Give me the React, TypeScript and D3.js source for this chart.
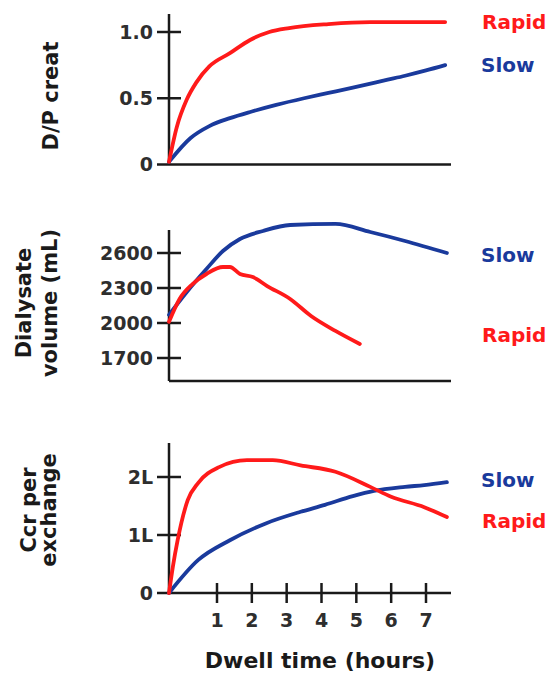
import * as d3 from 'd3';

// dwell time axis
const hourTicks = [1, 2, 3, 4, 5, 6, 7];

// D/P creatinine (hours, ratio)
const dpRapid: [number, number][] = [
  [0, 0.02], [0.16, 0.28], [0.37, 0.49], [0.57, 0.62], [0.84, 0.74], [1.37, 0.84],
  [1.95, 0.94], [2.5, 1.0], [3.07, 1.03], [4.2, 1.06], [5.4, 1.075], [7.55, 1.075],
];
const dpSlow: [number, number][] = [
  [0, 0.02], [0.45, 0.2], [0.84, 0.29], [1.37, 0.35], [2.0, 0.4], [2.7, 0.45], [3.5, 0.5],
  [4.2, 0.54], [4.9, 0.58], [5.9, 0.64], [6.4, 0.67], [7.0, 0.71], [7.55, 0.75],
];
const dpTicks = [0, 0.5, 1.0];
const dpTickLabels = ['0', '0.5', '1.0'];

// dialysate volume (hours, mL)
const volRapid: [number, number][] = [
  [0, 2010], [0.22, 2206], [0.49, 2334], [0.78, 2420], [1.17, 2480], [1.37, 2480],
  [1.66, 2420], [2.03, 2394], [2.44, 2317], [3.1, 2206], [3.7, 2060], [4.4, 1932], [5.1, 1820],
];
const volSlow: [number, number][] = [
  [0, 2070], [0.37, 2266], [0.78, 2463], [1.17, 2617], [1.66, 2720], [2.32, 2789],
  [3.1, 2840], [4.4, 2849], [5.4, 2780], [6.4, 2703], [7.6, 2600],
];
const volTicks = [1700, 2000, 2300, 2600];

// creatinine clearance per exchange (hours, L)
const ccrRapid: [number, number][] = [
  [0, 0], [0.08, 0.45], [0.18, 0.91], [0.39, 1.6], [0.61, 1.9], [1.06, 2.17], [1.86, 2.29],
  [2.6, 2.29], [3.4, 2.2], [4.4, 2.09], [5.4, 1.83], [6.0, 1.66], [6.95, 1.48], [7.6, 1.31],
];
const ccrSlow: [number, number][] = [
  [0, 0], [0.61, 0.57], [1.37, 0.91], [2.4, 1.2], [3.4, 1.4], [4.1, 1.52], [4.9, 1.67],
  [5.5, 1.76], [6.4, 1.83], [6.95, 1.86], [7.6, 1.91],
];
const ccrTicks = [0, 1, 2];
const ccrTickLabels = ['0', '1L', '2L'];

const RED = '#ff1a1a';
const BLUE = '#1a3a9c';
const INK = '#1a1a1a';
const TICK_INK = '#2e2e2e';
const FONT = '"DejaVu Sans", Verdana, sans-serif';

const x = d3.scaleLinear().domain([0, 1, 7]).range([169, 217, 426]);
const AXIS_X = 169;
const AXIS_RIGHT = 451;

type Panel = {
  y: d3.ScaleLinear<number, number>;
  top: number;
  bottom: number;
  ticks: number[];
  labels: string[];
  zeroTick: boolean;
  rapid: [number, number][];
  slow: [number, number][];
  rapidLabelY: number;
  slowLabelY: number;
  title: string[];
  titleX: number[];
  titleY: number;
};

const panels: Panel[] = [
  {
    y: d3.scaleLinear().domain([0, 1]).range([164.5, 32]),
    top: 14,
    bottom: 164.5,
    ticks: dpTicks,
    labels: dpTickLabels,
    zeroTick: true,
    rapid: dpRapid,
    slow: dpSlow,
    rapidLabelY: 29,
    slowLabelY: 72,
    title: ['D/P creat'],
    titleX: [58],
    titleY: 96,
  },
  {
    y: d3.scaleLinear().domain([1700, 2600]).range([358, 253]),
    top: 230,
    bottom: 381,
    ticks: volTicks,
    labels: volTicks.map(String),
    zeroTick: false,
    rapid: volRapid,
    slow: volSlow,
    rapidLabelY: 342,
    slowLabelY: 262,
    title: ['Dialysate', 'volume (mL)'],
    titleX: [31, 57],
    titleY: 303,
  },
  {
    y: d3.scaleLinear().domain([0, 1]).range([593, 535]),
    top: 443,
    bottom: 593,
    ticks: ccrTicks,
    labels: ccrTickLabels,
    zeroTick: true,
    rapid: ccrRapid,
    slow: ccrSlow,
    rapidLabelY: 528,
    slowLabelY: 487,
    title: ['Ccr per', 'exchange'],
    titleX: [36, 56],
    titleY: 510,
  },
];

function PanelView({ p, last }: { p: Panel; last: boolean }) {
  const path = d3
    .line<[number, number]>()
    .curve(d3.curveMonotoneX)
    .x((d) => x(d[0]))
    .y((d) => p.y(d[1]));
  return (
    <g>
      {p.title.map((t, i) => (
        <text
          key={t}
          transform={`translate(${p.titleX[i]},${p.titleY}) rotate(-90)`}
          textAnchor="middle"
          fontSize={21}
          fontWeight="bold"
          fill={INK}
        >
          {t}
        </text>
      ))}
      <line x1={AXIS_X} x2={AXIS_X} y1={p.top} y2={p.bottom} stroke={INK} strokeWidth={2.5} />
      <line
        x1={p.zeroTick ? 157 : AXIS_X}
        x2={AXIS_RIGHT}
        y1={p.bottom}
        y2={p.bottom}
        stroke={INK}
        strokeWidth={2.5}
      />
      {p.ticks.map((t, i) => (
        <g key={t} transform={`translate(0,${p.y(t)})`}>
          {p.y(t) < p.bottom - 1 && (
            <line x1={157} x2={181} stroke={INK} strokeWidth={2.5} />
          )}
          <text x={153} dy="0.36em" textAnchor="end" fontSize={19} fontWeight="bold" fill={TICK_INK}>
            {p.labels[i]}
          </text>
        </g>
      ))}
      <path d={path(p.slow) ?? ''} fill="none" stroke={BLUE} strokeWidth={3.8} strokeLinejoin="round" strokeLinecap="round" />
      <path d={path(p.rapid) ?? ''} fill="none" stroke={RED} strokeWidth={3.8} strokeLinejoin="round" strokeLinecap="round" />
      <text x={482} y={p.rapidLabelY} fontSize={20} fontWeight="bold" fill={RED}>
        Rapid
      </text>
      <text x={481} y={p.slowLabelY} fontSize={20} fontWeight="bold" fill={BLUE}>
        Slow
      </text>
      {last &&
        hourTicks.map((h) => (
          <g key={h} transform={`translate(${x(h)},${p.bottom})`}>
            <line y1={-10} y2={10} stroke={INK} strokeWidth={2.5} />
            <text y={34} textAnchor="middle" fontSize={19} fontWeight="bold" fill={TICK_INK}>
              {h}
            </text>
          </g>
        ))}
    </g>
  );
}

export default function App() {
  return (
    <svg
      width={554}
      height={676}
      style={{ position: 'absolute', left: 0, top: 0, background: '#fff' }}
      fontFamily={FONT}
    >
      {panels.map((p, i) => (
        <PanelView key={i} p={p} last={i === panels.length - 1} />
      ))}
      <text x={320} y={668} textAnchor="middle" fontSize={22} fontWeight="bold" fill={INK}>
        Dwell time (hours)
      </text>
    </svg>
  );
}
